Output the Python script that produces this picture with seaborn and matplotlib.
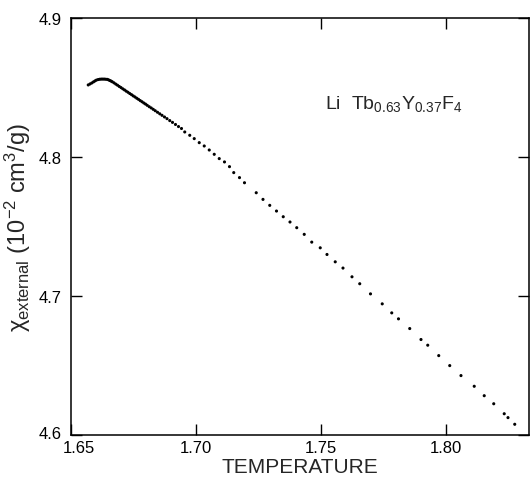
import matplotlib
matplotlib.use("Agg")
import matplotlib.pyplot as plt
import matplotlib.transforms as mtransforms
import seaborn as sns
import pandas as pd

temperature = [
    1.6569, 1.6576, 1.6583, 1.6590, 1.6596, 1.6602, 1.6609, 1.6615, 1.6621, 1.6627,
    1.6633, 1.6639, 1.6645, 1.6650, 1.6655, 1.6660, 1.6665,
    1.6672, 1.6679, 1.6686, 1.6693, 1.6700, 1.6707, 1.6714, 1.6721, 1.6728, 1.6735,
    1.6742, 1.6749, 1.6756, 1.6763, 1.6770, 1.6777, 1.6784, 1.6791, 1.6798, 1.6805,
    1.6813, 1.6821, 1.6829, 1.6837, 1.6846, 1.6855, 1.6864, 1.6874, 1.6884, 1.6895,
    1.6906, 1.6918, 1.6930, 1.6942,
    1.6955, 1.6975, 1.6993, 1.7013, 1.7033, 1.7053, 1.7073, 1.7093, 1.7114, 1.7134,
    1.7151, 1.7174, 1.7194, 1.7241, 1.7268, 1.7295, 1.7322, 1.7349, 1.7376, 1.7403,
    1.7433, 1.7463, 1.7497, 1.7524, 1.7557, 1.7588, 1.7624, 1.7655, 1.7698, 1.7745,
    1.7783, 1.7810, 1.7855, 1.7900, 1.7927, 1.7971, 1.8015, 1.8060,
    1.8113, 1.8153, 1.8191, 1.8233, 1.8248, 1.8275,
]
chi = [
    4.8521, 4.8528, 4.8535, 4.8543, 4.8550, 4.8556, 4.8560, 4.8562, 4.8563, 4.8563,
    4.8563, 4.8562, 4.8561, 4.8558, 4.8553, 4.8549, 4.8544,
    4.8536, 4.8527, 4.8519, 4.8510, 4.8502, 4.8493, 4.8485, 4.8476, 4.8468, 4.8459,
    4.8451, 4.8442, 4.8434, 4.8425, 4.8417, 4.8408, 4.8400, 4.8391, 4.8383, 4.8374,
    4.8364, 4.8355, 4.8345, 4.8335, 4.8324, 4.8313, 4.8302, 4.8290, 4.8278, 4.8264,
    4.8251, 4.8236, 4.8221, 4.8207,
    4.8182, 4.8158, 4.8134, 4.8105, 4.8081, 4.8052, 4.8021, 4.7990, 4.7966, 4.7932,
    4.7889, 4.7853, 4.7816, 4.7744, 4.7696, 4.7653, 4.7612, 4.7571, 4.7533, 4.7492,
    4.7444, 4.7388, 4.7347, 4.7299, 4.7246, 4.7201, 4.7138, 4.7088, 4.7015, 4.6943,
    4.6878, 4.6835, 4.6765, 4.6686, 4.6645, 4.6570, 4.6498, 4.6426,
    4.6349, 4.6281, 4.6223, 4.6151, 4.6123, 4.6075,
]
x_ticks = [1.65, 1.70, 1.75, 1.80]
x_tick_labels = ["1.65", "1.70", "1.75", "1.80"]
y_ticks = [4.6, 4.7, 4.8, 4.9]
y_tick_labels = ["4.6", "4.7", "4.8", "4.9"]

sns.set_theme(style="ticks")
plt.rcParams["font.family"] = ["Liberation Sans", "DejaVu Sans"]
plt.rcParams["mathtext.fontset"] = "custom"
plt.rcParams["mathtext.rm"] = "Liberation Sans"
plt.rcParams["mathtext.it"] = "Liberation Sans:italic"
plt.rcParams["mathtext.bf"] = "Liberation Sans:bold"

df = pd.DataFrame({"T": temperature, "chi": chi})

fig = plt.figure(figsize=(5.31, 4.81), dpi=100)
ax = fig.add_axes([0.1337, 0.0942, 0.8625, 0.8653])
sns.scatterplot(data=df, x="T", y="chi", ax=ax, color="black", s=5,
                edgecolor="none", legend=False)

ax.set_xlim(1.65, 1.8332)
ax.set_ylim(4.6, 4.9)
ax.set_xticks(x_ticks)
ax.set_xticklabels(x_tick_labels)
ax.set_yticks(y_ticks)
ax.set_yticklabels(y_tick_labels)
ax.tick_params(direction="in", length=8, width=1, top=True, right=True,
               labelsize=12, colors="black")
ax.tick_params(axis="x", pad=4)
ax.tick_params(axis="y", pad=7)
for sp in ax.spines.values():
    sp.set_visible(True)
    sp.set_linewidth(1.1)
    sp.set_color("black")

# nudge the corner labels apart as in the reference
first_x = ax.get_xticklabels()[0]
first_x.set_transform(first_x.get_transform() +
                      mtransforms.ScaledTranslation(8 / 100, 0, fig.dpi_scale_trans))
first_y = ax.get_yticklabels()[0]
first_y.set_transform(first_y.get_transform() +
                      mtransforms.ScaledTranslation(0, 3 / 100, fig.dpi_scale_trans))

ax.set_xlabel("TEMPERATURE", fontsize=15, labelpad=1)
ax.set_ylabel(r"$\mathrm{\chi}_{\mathrm{external}}$ (10$^{-2}$ cm$^{3}$/g)",
              fontsize=17, labelpad=4)

ax.text(0.555, 0.785,
        r"Li  Tb$_{0.63}$Y$_{0.37}$F$_{4}$",
        transform=ax.transAxes, fontsize=14, ha="left", va="baseline")

fig.savefig("out.png", dpi=100)
